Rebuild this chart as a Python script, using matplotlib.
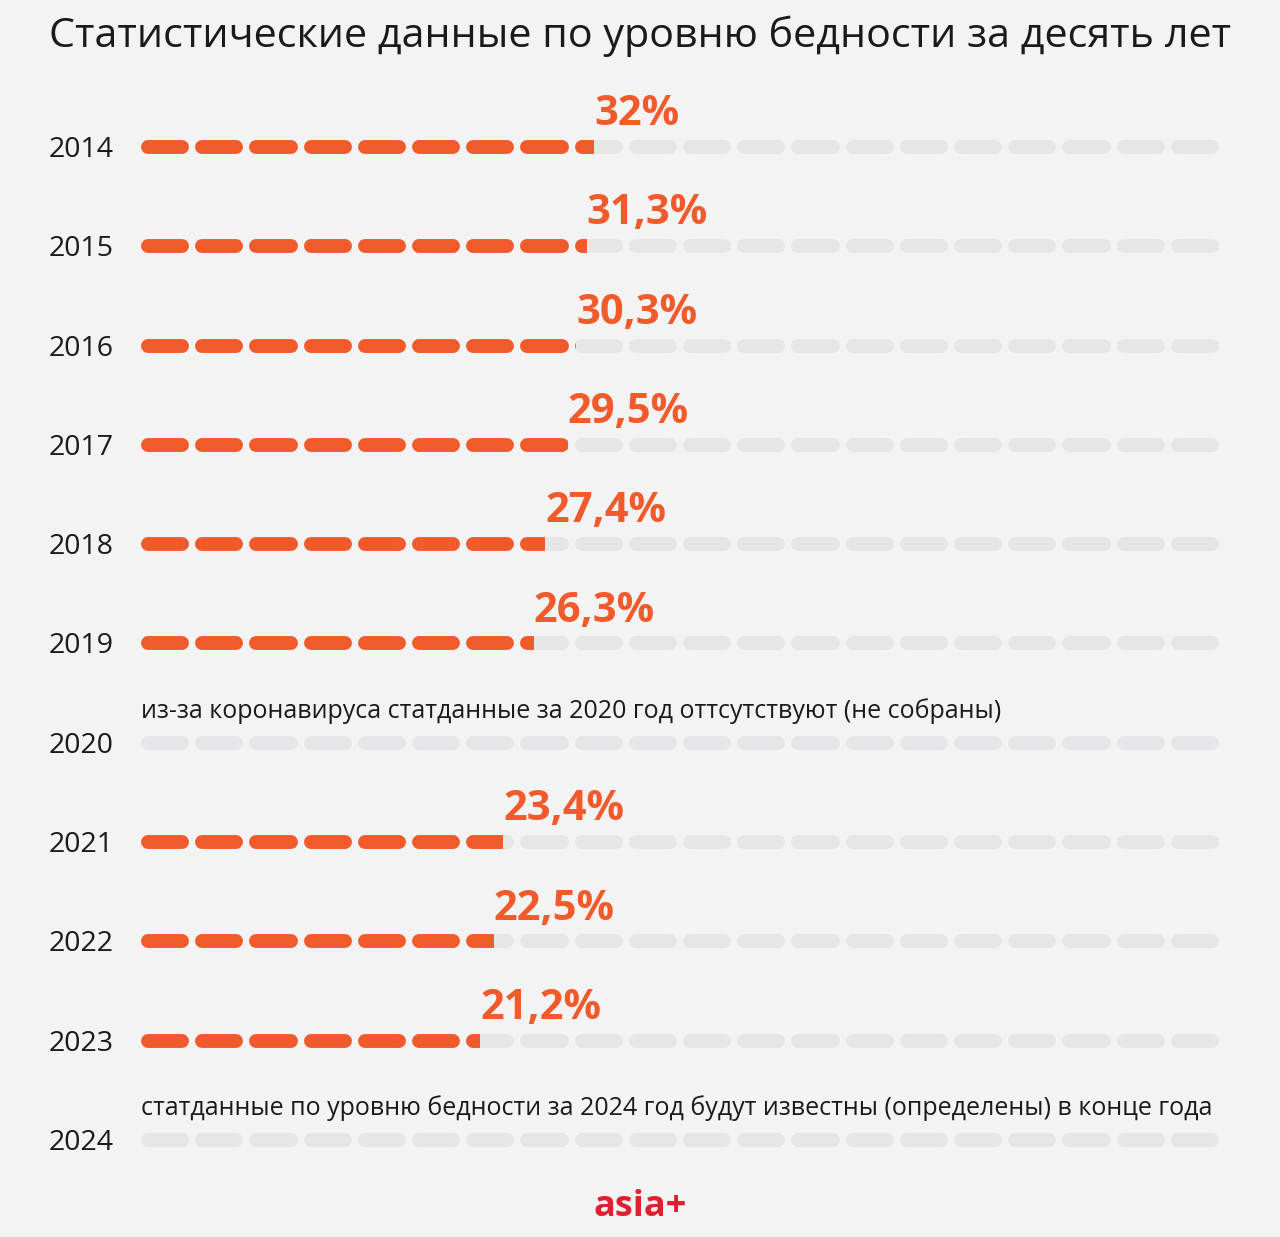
import matplotlib.pyplot as plt
from matplotlib.patches import Rectangle

plt.rcParams['font.family'] = ['Open Sans', 'DejaVu Sans']

years = ["2014", "2015", "2016", "2017", "2018", "2019", "2020", "2021", "2022", "2023", "2024"]
values = [32.0, 31.3, 30.3, 29.5, 27.4, 26.3, None, 23.4, 22.5, 21.2, None]
labels = ["32%", "31,3%", "30,3%", "29,5%", "27,4%", "26,3%", None, "23,4%", "22,5%", "21,2%", None]
notes = {6: "из-за коронавируса статданные за 2020 год оттсутствуют (не собраны)",
         10: "статданные по уровню бедности за 2024 год будут известны (определены) в конце года"}

ORANGE = "#F15A2B"
GRAY = "#E6E6E8"
BG = "#F3F3F3"

# scale: 10.56 px per percent, track starts at -10.9
px = 10.56
track_start = -10.9
n_seg = 20
pitch = 54.2 / px
cap = 7 / px  # half linewidth in data units

fig = plt.figure(figsize=(12.8, 12.37), dpi=100, facecolor=BG)
ax = fig.add_axes([0, 0, 1, 1])
ax.set_facecolor(BG)
ax.set_xlim(track_start - 141 / px, track_start - 141 / px + 1280 / px)
ax.set_ylim((1237 - 147) / 99.3, -147 / 99.3)
ax.axis("off")

for i, year in enumerate(years):
    ax.text(track_start - 92 / px, i + 0.03, year, fontsize=20.5, color="#1a1a1a",
            ha="left", va="center")
    for k in range(n_seg):
        x0 = track_start + k * pitch + cap
        x1 = track_start + (k + 1) * pitch - 6 / px - cap
        ax.plot([x0, x1], [i, i], color=GRAY, lw=10, solid_capstyle="round")
    v = values[i]
    if v is not None:
        clip = Rectangle((track_start - 1, i - 0.2), v - track_start + 1, 0.4,
                         transform=ax.transData)
        for k in range(n_seg):
            x0 = track_start + k * pitch + cap
            x1 = track_start + (k + 1) * pitch - 6 / px - cap
            ln, = ax.plot([x0, x1], [i, i], color=ORANGE, lw=10,
                          solid_capstyle="round")
            ln.set_clip_path(clip)
        ax.text(v, i - 0.22, labels[i], fontsize=30, fontweight="bold",
                color=ORANGE, ha="left", va="baseline")
    if i in notes:
        ax.text(track_start, i - 0.32, notes[i], fontsize=18, color="#1a1a1a",
                ha="left", va="center")

fig.text(49 / 1280, 1 - 36 / 1237, "Статистические данные по уровню бедности за десять лет",
         fontsize=29.7, color="#1a1a1a", ha="left", va="center")
fig.text(0.5, 1 - 1207 / 1237, "asia+", fontsize=26, fontweight="bold",
         color="#E0202F", ha="center", va="center")

fig.savefig("out.png", dpi=100, facecolor=BG)
